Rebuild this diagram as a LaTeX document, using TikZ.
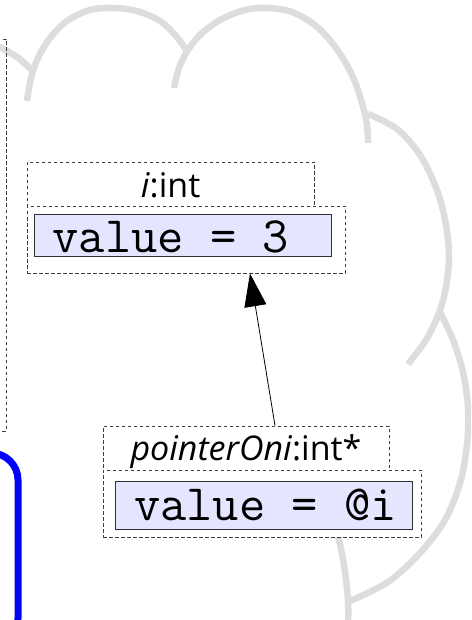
\documentclass[tikz,border=0pt]{standalone}
\usepackage{fontspec}
\setmainfont{Open Sans}
\usetikzlibrary{arrows.meta}
\definecolor{cloudgray}{RGB}{221,221,221}
\definecolor{dashgray}{RGB}{60,60,60}
\definecolor{valfill}{RGB}{229,229,255}
\definecolor{frameblue}{RGB}{0,0,255}
\begin{document}
\begin{tikzpicture}[x=1pt,y=-1pt,
  cloudarc/.style={draw=cloudgray,line width=6.5pt,line cap=butt},
  frame/.style={draw=dashgray,line width=0.9pt,dash pattern=on 3.5pt off 2.5pt},
  hdrbox/.style={frame,fill=white,rectangle,inner sep=0pt,
    font=\fontsize{34}{40}\selectfont,text depth=0pt},
  bodybox/.style={frame,fill=white,rectangle,inner sep=0pt},
  valbox/.style={draw=black!80,line width=0.9pt,fill=valfill,rectangle,
    inner ysep=0pt,text depth=0pt,
    font=\fontsize{51}{58}\selectfont\ttfamily},
  ptr/.style={draw=black,line width=0.8pt,-{Triangle[length=33pt,width=22pt]}}
]
\useasboundingbox (0,0) rectangle (471,620);
\clip (0,0) rectangle (471,620);

% cloud outline, one bump at a time
\draw[cloudarc] plot[smooth,tension=0.55] coordinates
  {(-12,40) (0,47) (17,57) (33,71)};
\draw[cloudarc] plot[smooth,tension=0.55] coordinates
  {(27,101) (31,78) (38,58) (50,38) (67,21) (90,10) (113,8) (137,11)
   (160,21) (176,36) (187,51)};
\draw[cloudarc] plot[smooth,tension=0.55] coordinates
  {(174,88) (179,68) (188,50) (202,33) (222,19) (245,10) (267,8) (292,12)
   (316,26) (336,48) (352,75) (362,103) (367,125) (368,143)};
\draw[cloudarc] plot[smooth,tension=0.55] coordinates
  {(368,114) (397,129) (420,155) (437,190) (446,225) (449,257) (446,287)
   (439,313) (426,340) (408,364)};
\draw[cloudarc] plot[smooth,tension=0.55] coordinates
  {(440,312) (453,340) (463,372) (468,408) (467,445) (460,483) (445,520)
   (420,553) (388,582) (350,601)};
\draw[cloudarc] plot[smooth,tension=0.55] coordinates
  {(333,505) (338,535) (344,565) (348,600) (348,630)};

% neighbouring frames at the left edge
\draw[frame] (-20,39) rectangle (6,431);
\draw[frameblue,line width=7pt,rounded corners=27pt] (-60,453) rectangle (18,645);

% object i
\node[hdrbox,minimum width=287pt,minimum height=44pt,text height=28pt]
  (ihead) at (170.5,184) {\textit{i}:int};
\node[bodybox,minimum width=318pt,minimum height=67pt] (ibody) at (186,239.5) {};
\node[valbox,inner xsep=18.5pt,minimum height=42pt,text height=34pt]
  (ival) at (182.5,235) {\makebox[260pt][l]{value = 3}};

% object pointerOni
\node[hdrbox,minimum width=286pt,minimum height=44pt,text height=24pt]
  (ptrhead) at (246,448) {\textit{pointerOni}:int*};
\node[bodybox,minimum width=318pt,minimum height=67pt] (ptrbody) at (262,503.5) {};
\node[valbox,inner xsep=19pt,minimum height=48pt,text height=30pt]
  (ptrval) at (263.5,505) {\makebox[259pt][l]{value = @i}};

% reference from pointerOni to i
\draw[ptr] ([xshift=29pt]ptrhead.north) -- ([xshift=64pt]ibody.south);
\end{tikzpicture}
\end{document}
